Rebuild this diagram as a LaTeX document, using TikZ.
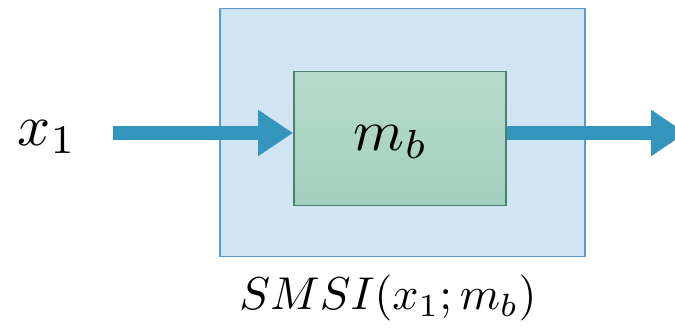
\documentclass[tikz,border=0pt]{standalone}
\usepackage{graphicx}
\usetikzlibrary{arrows.meta}
\definecolor{outerfill}{HTML}{D2E5F4}
\definecolor{outerdraw}{HTML}{5B9BD5}
\definecolor{innertop}{HTML}{B7DBCC}
\definecolor{innerbot}{HTML}{A2D0BE}
\definecolor{innerdraw}{HTML}{4F7F72}
\definecolor{arrowc}{HTML}{3596BD}
\tikzset{
  outerbox/.style={draw=outerdraw,fill=outerfill,line width=1.5pt},
  innerbox/.style={draw=innerdraw,top color=innertop,bottom color=innerbot,line width=1.5pt},
  flow/.style={arrowc,line width=14pt,-{Triangle[length=35pt,width=44pt]}},
  txt/.style={inner sep=0pt}
}
\newcommand{\myBigMath}[1]{\scalebox{5.8}{#1}}
\newcommand{\myMidMath}[1]{\scalebox{4.6}{#1}}
\begin{document}
\begin{tikzpicture}[x=1pt,y=-1pt]
\useasboundingbox (0,0) rectangle (675,331);
\begin{scope}
\clip (0,0) rectangle (675,331);
\node[outerbox,minimum width=365pt,minimum height=248pt,anchor=north west] (outer) at (219,8) {};
\node[innerbox,minimum width=212pt,minimum height=134pt,anchor=north west] (inner) at (293,71) {};
\node[txt] (mb) at (391,142) {\myBigMath{$m_b$}};
\node[txt] (x1) at (47,137) {\myBigMath{$x_1$}};
\coordinate (start) at (113,133);
\coordinate (out) at (686,133);
\draw[flow] (start) -- (inner.west |- start);
\draw[flow] (inner.east |- start) -- (out);
\node[txt] (lab) at (388,298) {\myMidMath{$SMSI(x_1;m_b)$}};
\end{scope}
\end{tikzpicture}
\end{document}
